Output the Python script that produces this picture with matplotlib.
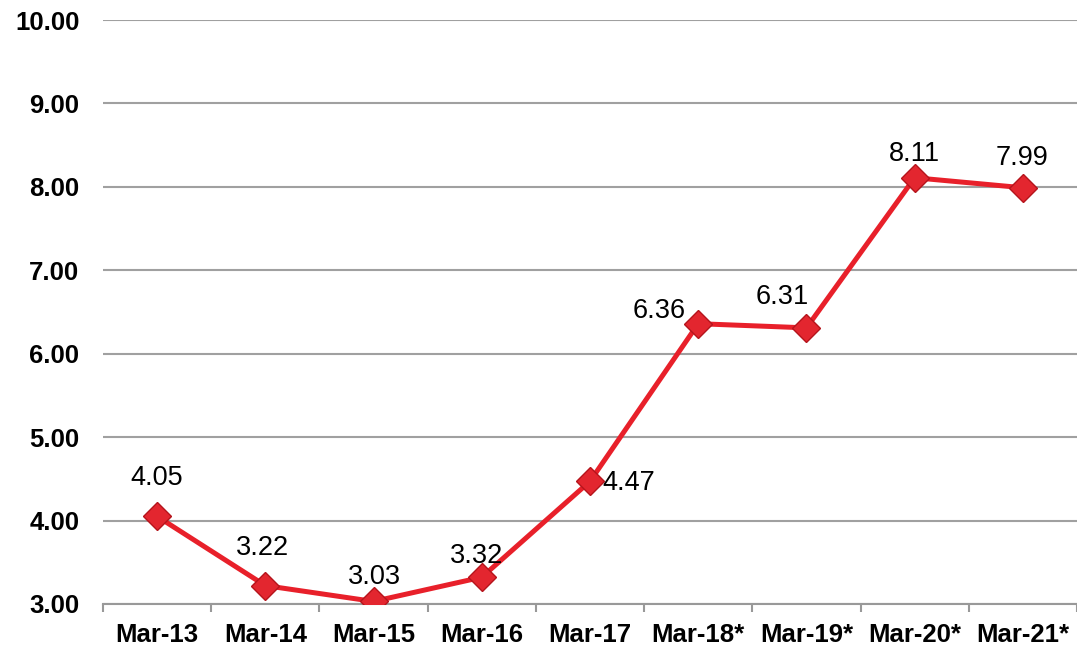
import matplotlib.pyplot as plt
import numpy as np

plt.rcParams.update({
    'font.family': ['Liberation Sans', 'DejaVu Sans'],
    'figure.dpi': 100,
    'savefig.dpi': 100,
})

# data
periods = ['Mar-13', 'Mar-14', 'Mar-15', 'Mar-16', 'Mar-17',
           'Mar-18*', 'Mar-19*', 'Mar-20*', 'Mar-21*']
values = [4.05, 3.22, 3.03, 3.32, 4.47, 6.36, 6.31, 8.11, 7.99]
y_ticks = [3, 4, 5, 6, 7, 8, 9, 10]

# label offsets (pixels) relative to each point
label_offsets = [(0, 38), (-3, 38), (1, 24), (-5, 21), (12, -2),
                 (-39, 13), (-24, 31), (0, 24), (-1, 30)]
label_ha = ['center', 'center', 'center', 'center', 'left',
            'center', 'center', 'center', 'center']

fig = plt.figure(figsize=(10.77, 6.48))
ax = fig.add_axes([0.0956, 0.068, 0.9044, 0.901])

x = np.arange(len(periods))
ax.plot(x, values, color='#E8202A', lw=3.6, zorder=3,
        marker='D', ms=14, mfc='#E3262F', mec='#B5141C', mew=1.0)

for xi, v, off, ha in zip(x, values, label_offsets, label_ha):
    ax.annotate('%.2f' % v, (xi, v), xytext=off, textcoords='offset pixels',
                ha=ha, va='center', fontsize=19.5, color='black', zorder=4)

ax.set_ylim(3, 10)
ax.set_xlim(-0.5, 8.45)
ax.set_yticks(y_ticks)
ax.set_yticklabels(['%.2f' % t for t in y_ticks], fontsize=18.5, fontweight='bold')
ax.set_xticks(x)
ax.set_xticklabels(periods, fontsize=18.5, fontweight='bold')
ax.set_xticks(np.arange(-0.5, 9, 1.0), minor=True)

ax.tick_params(axis='y', length=0, pad=17)
ax.tick_params(axis='x', which='major', length=0, pad=14)
ax.tick_params(axis='x', which='minor', length=6, width=1.5, color='#999999')

ax.grid(axis='y', color='#A0A0A0', lw=1.5)
ax.set_axisbelow(True)
for s in ['left', 'right', 'top']:
    ax.spines[s].set_visible(False)
ax.spines['bottom'].set_color('#999999')
ax.spines['bottom'].set_linewidth(1.5)

plt.savefig('out.png')
